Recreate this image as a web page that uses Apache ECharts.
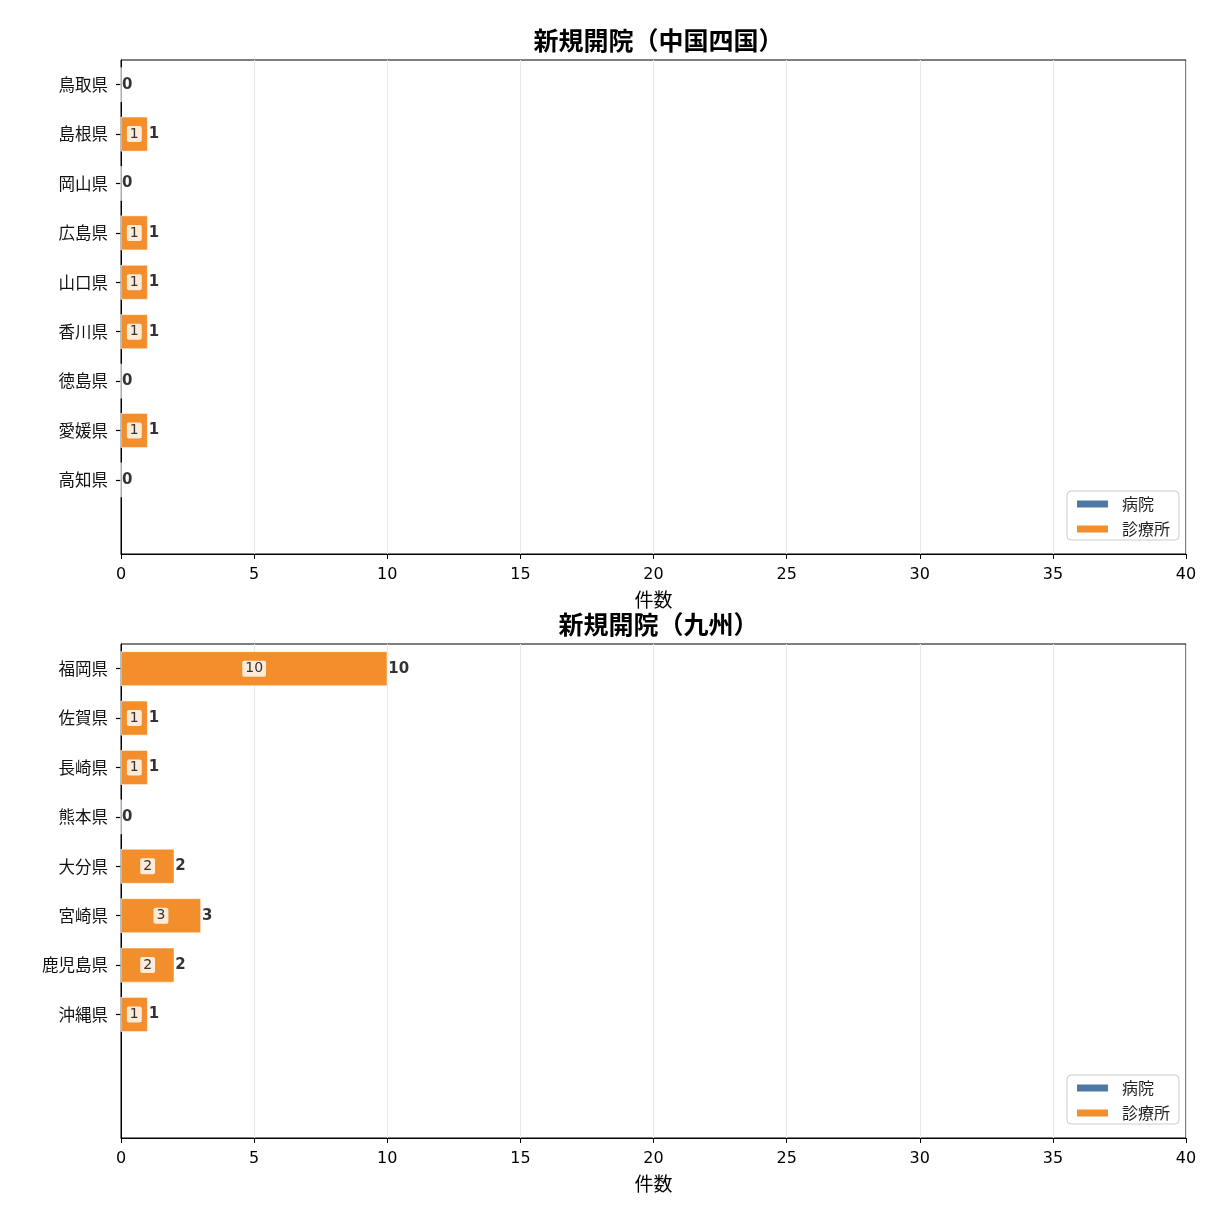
<!DOCTYPE html>
<html><head><meta charset="utf-8">
<script src="https://cdn.jsdelivr.net/npm/echarts@6/dist/echarts.min.js"></script>
<style>html,body{margin:0;padding:0;background:#fff}#c{width:1211px;height:1211px}</style>
</head><body><div id="c"></div>
<script>
const seriesNames = ['病院', '診療所'];
const titleChugoku = '新規開院（中国四国）';
const titleKyushu = '新規開院（九州）';
const categoriesChugoku = ['鳥取県','島根県','岡山県','広島県','山口県','香川県','徳島県','愛媛県','高知県'];
const hospitalChugoku = [0,0,0,0,0,0,0,0,0];
const clinicChugoku = [0,1,0,1,1,1,0,1,0];
const categoriesKyushu = ['福岡県','佐賀県','長崎県','熊本県','大分県','宮崎県','鹿児島県','沖縄県'];
const hospitalKyushu = [0,0,0,0,0,0,0,0];
const clinicKyushu = [10,1,1,0,2,3,2,1];
const xTicks = [0,5,10,15,20,25,30,35,40];
const xAxisName = '件数';

const FONT = 'DejaVu Sans, "Noto Sans CJK JP", sans-serif';
const JFONT = '"Noto Sans CJK JP", sans-serif';
const BLUE = '#4e79a7', ORANGE = '#f28e2b';

function pad(cats, n) { const a = cats.slice(); while (a.length < n) a.push(''); return a; }

const panels = [
  {title: titleChugoku, cats: categoriesChugoku, hosp: hospitalChugoku, clin: clinicChugoku, top: 60},
  {title: titleKyushu, cats: categoriesKyushu, hosp: hospitalKyushu, clin: clinicKyushu, top: 644}
];
const H = 494;

const option = {
  backgroundColor: '#fff',
  animation: false,
  title: [], grid: [], xAxis: [], yAxis: [], series: [], legend: []
};

const innerLabel = {
  position: 'inside', color: '#333', fontSize: 14, fontFamily: FONT,
  backgroundColor: 'rgba(255,255,255,0.82)', padding: [2, 3, 0, 3], borderRadius: 2
};

panels.forEach((p, i) => {
  const cats = pad(p.cats, 10);
  option.title.push({
    text: p.title, left: 121 + 1065 / 2, top: p.top - 37, textAlign: 'center',
    textStyle: {fontFamily: JFONT, fontSize: 25, fontWeight: 'bold', color: '#000'}
  });
  option.grid.push({left: 121, top: p.top, width: 1065, height: H, show: true,
    borderColor: '#000', borderWidth: 1, backgroundColor: '#fff'});
  option.xAxis.push({
    gridIndex: i, type: 'value', min: 0, max: 40, interval: 5,
    name: xAxisName, nameLocation: 'middle', nameGap: 36,
    nameTextStyle: {fontFamily: JFONT, fontSize: 19, color: '#000'},
    axisLine: {show: true, lineStyle: {color: '#000', width: 1}},
    axisTick: {show: true, length: 5, lineStyle: {color: '#000'}},
    axisLabel: {fontFamily: FONT, fontSize: 16, color: '#000', margin: 13},
    splitLine: {show: true, lineStyle: {color: '#e8e8e8', width: 1}}
  });
  option.yAxis.push({
    gridIndex: i, type: 'category', data: cats, inverse: true,
    axisLine: {show: true, lineStyle: {color: '#000', width: 1}},
    axisTick: {show: true, alignWithLabel: true, length: 5, lineStyle: {color: '#000', width: 1.2},
      interval: (idx, val) => val !== ''},
    axisLabel: {fontFamily: JFONT, fontSize: 16.5, color: '#111', margin: 13},
    splitLine: {show: false}
  });
  const mk = (arr) => arr.map(v => ({value: v, label: {show: v > 0}}));
  option.series.push({
    name: seriesNames[0], type: 'bar', stack: 's' + i, xAxisIndex: i, yAxisIndex: i,
    barWidth: '70%', data: mk(p.hosp), itemStyle: {color: BLUE, borderColor: '#fff', borderWidth: 0.5},
    label: innerLabel
  });
  option.series.push({
    name: seriesNames[1], type: 'bar', stack: 's' + i, xAxisIndex: i, yAxisIndex: i,
    barWidth: '70%', data: mk(p.clin), itemStyle: {color: ORANGE, borderColor: '#fff', borderWidth: 0.5},
    label: innerLabel
  });
  const totals = p.cats.map((c, k) => [p.hosp[k] + p.clin[k], k]);
  option.series.push({
    name: 'total', type: 'scatter', xAxisIndex: i, yAxisIndex: i, symbolSize: 0,
    data: totals, silent: true,
    label: {show: true, position: 'right', distance: 1, formatter: (d) => d.value[0],
      fontFamily: FONT, fontSize: 15, fontWeight: 'bold', color: '#000'}
  });
  option.legend.push({
    data: seriesNames, orient: 'vertical', right: 32, top: p.top + 431,
    itemWidth: 33, itemHeight: 9, itemGap: 9, icon: 'rect',
    textStyle: {fontFamily: JFONT, fontSize: 16, color: '#222', padding: [0, 0, 0, 8]},
    borderColor: '#cccccc', borderWidth: 1, borderRadius: 4, padding: [5, 9, 3, 8],
    backgroundColor: 'rgba(255,255,255,0.8)'
  });
});

const chart = echarts.init(document.getElementById('c'), null, {renderer: 'canvas'});
chart.setOption(option);
</script></body></html>
